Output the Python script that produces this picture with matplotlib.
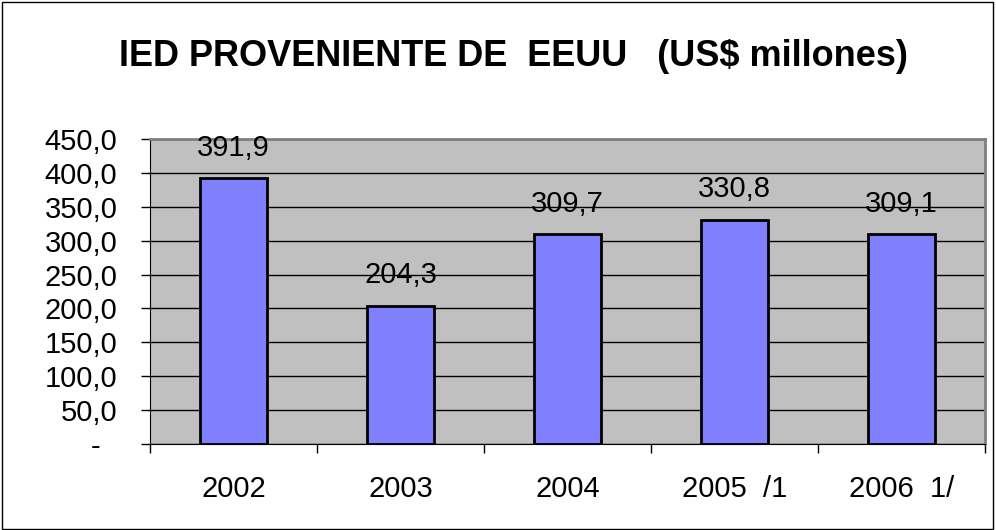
import numpy as np
import matplotlib.pyplot as plt
from matplotlib.patches import Rectangle

# Datos
years = ['2002', '2003', '2004', '2005  /1', '2006  1/']
ied_eeuu = [391.9, 204.3, 309.7, 330.8, 309.1]
y_ticks = [0, 50, 100, 150, 200, 250, 300, 350, 400, 450]

plt.rcParams['font.family'] = ['Liberation Sans', 'DejaVu Sans']

fig = plt.figure(figsize=(9.96, 5.30), dpi=100)
ax = fig.add_axes([0.1506, 0.1623, 0.8384, 0.5755])

x = np.arange(len(years))
ax.set_facecolor('#C0C0C0')
ax.yaxis.grid(True, color='black', linewidth=1)
ax.set_axisbelow(True)
ax.bar(x, ied_eeuu, width=0.4, color='#8080FF', edgecolor='black', linewidth=2, zorder=3)

for xi, v in zip(x, ied_eeuu):
    ax.annotate(f'{v:.1f}'.replace('.', ','), xy=(xi, v), xytext=(0, 22),
                textcoords='offset points', ha='center', va='center', fontsize=21)

ax.set_xlim(-0.5, len(years) - 0.5)
ax.set_ylim(0, 450)
ax.set_yticks(y_ticks)
# formato contable: el cero se muestra como "-" con relleno a la derecha
ax.set_yticklabels(['-  ' if t == 0 else f'{t:.1f}'.replace('.', ',') for t in y_ticks], fontsize=21)
ax.tick_params(axis='y', length=6.5, width=1, pad=17)

ax.set_xticks(np.arange(len(years) + 1) - 0.5)
ax.set_xticklabels([])
ax.tick_params(axis='x', which='major', length=6.5, width=1)
ax.set_xticks(x, minor=True)
ax.set_xticklabels(years, minor=True, fontsize=21)
ax.tick_params(axis='x', which='minor', length=0, pad=22)

ax.spines['left'].set_color('black')
ax.spines['bottom'].set_color('black')
ax.spines['top'].set_color('#808080')
ax.spines['right'].set_color('#808080')
ax.spines['top'].set_linewidth(2)
ax.spines['right'].set_linewidth(2)

fig.text(0.516, 0.893, 'IED PROVENIENTE DE  EEUU   (US$ millones)',
         ha='center', va='center', fontsize=26, fontweight='bold')

fig.patches.append(Rectangle((0.002, 0.002), 0.995, 0.995, transform=fig.transFigure,
                             fill=False, edgecolor='black', linewidth=1))

fig.savefig('out.png', dpi=100)
